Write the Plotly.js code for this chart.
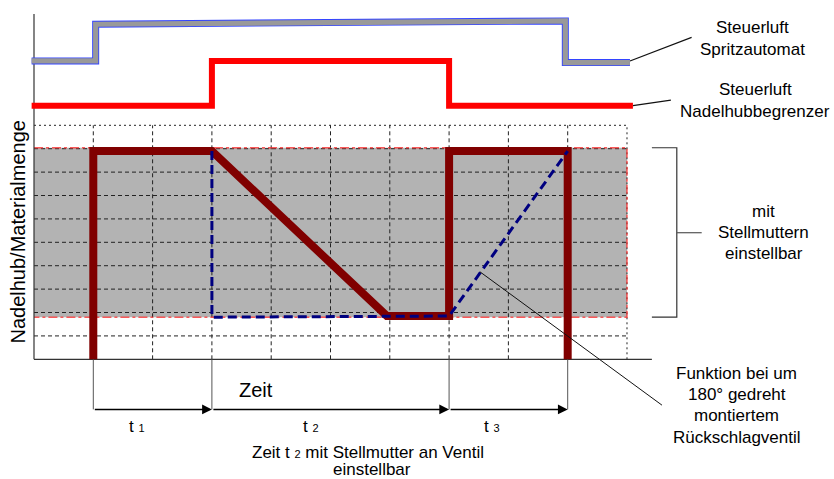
<!DOCTYPE html>
<html>
<head>
<meta charset="utf-8">
<script src="https://cdn.plot.ly/plotly-3.0.1.min.js"></script>
<style>html,body{margin:0;padding:0;background:#fff;}#chart{width:834px;height:479px;}</style>
</head>
<body>
<div id="chart"></div>
<script>
// ---- data ----
const gridXs = [1, 2, 3, 4, 5, 6, 7, 8, 9];
const gridYs = [1, 2, 3, 4, 5, 6, 7, 8, 9];
const gridMax = 10;
const axisXEnd = 10.42;
const axisYEnd = 14.76;

const bandX = [0, 10];
const bandY = [1.8, 9.04];

const spritzX = [-0.04, 1.04, 1.04, 8.96, 8.96, 10.05];
const spritzY = [12.75, 12.75, 14.32, 14.46, 12.68, 12.68];

const nadelX = [-0.04, 3, 3, 7, 7, 10.1];
const nadelY = [10.84, 10.84, 12.75, 12.75, 10.84, 10.84];

const hubX = [1, 1, 3, 5.95, 7, 7, 9, 9];
const hubY = [0, 8.9, 8.9, 1.85, 1.85, 8.9, 8.9, 0];

const rueckX = [3, 3, 7, 9];
const rueckY = [8.9, 1.8, 1.85, 8.9];

const phaseT = [1, 3, 7, 9];
const phaseY = -2.14;
const phaseLabels = ['t <span style="font-size:11px">1</span>', 't <span style="font-size:11px">2</span>', 't <span style="font-size:11px">3</span>'];
const phaseLabelX = [1.745, 4.67, 7.72];
const phaseLabelY = -2.89;

const bracketX = [10.42, 10.84, 11.26];
const bracketY = [9.04, 1.8, 5.41];

const leaderSpritzX = [10.05, 11.09], leaderSpritzY = [12.75, 13.76];
const leaderNadelX = [10.1, 10.74], leaderNadelY = [10.84, 11.08];
const leaderRueckX = [7.52, 10.59], leaderRueckY = [3.74, -1.96];

const labelTexts = ['Steuerluft', 'Spritzautomat', 'Steuerluft', 'Nadelhubbegrenzer',
  'mit', 'Stellmuttern', 'einstellbar',
  'Funktion bei um', '180° gedreht', 'montiertem', 'Rückschlagventil',
  'Zeit t <span style="font-size:11px">2</span> mit Stellmutter an Ventil', 'einstellbar'];
const labelX = [12.12, 12.12, 12.16, 12.16, 12.31, 12.31, 12.31, 11.855, 11.855, 11.855, 11.855, 5.63, 5.7];
const labelY = [14.16, 13.26, 11.51, 10.61, 6.32, 5.41, 4.54, -0.62, -1.51, -2.42, -3.32, -3.99, -4.72];

const zeitLabel = 'Zeit', zeitX = 3.74, zeitY = -1.31;
const yTitle = 'Nadelhub/Materialmenge', yTitleX = -0.27, yTitleY = 5.46;

// ---- build ----
const FONT = 'Liberation Sans, Arial, sans-serif';
function segs(pairs) {
  const x = [], y = [];
  pairs.forEach(p => { x.push(p[0], p[2], null); y.push(p[1], p[3], null); });
  return {x, y};
}
const traces = [];
traces.push({x: [bandX[0], bandX[1], bandX[1], bandX[0], bandX[0]], y: [bandY[0], bandY[0], bandY[1], bandY[1], bandY[0]],
  mode: 'lines', fill: 'toself', fillcolor: '#b3b3b3', line: {width: 0}, hoverinfo: 'skip'});
const dashed = segs(gridYs.map(v => [0, v, gridMax, v]).concat(gridXs.map(v => [v, 0, v, gridMax])));
traces.push({x: dashed.x, y: dashed.y, mode: 'lines', line: {color: '#222', width: 1, dash: '4px,3px'}, hoverinfo: 'skip'});
const dotted = segs([[0, gridMax, gridMax, gridMax], [gridMax, 0, gridMax, gridMax]]);
traces.push({x: dotted.x, y: dotted.y, mode: 'lines', line: {color: '#222', width: 1, dash: '2px,3px'}, hoverinfo: 'skip'});
traces.push({x: [bandX[0], bandX[1], bandX[1], bandX[0]], y: [bandY[1], bandY[1], bandY[0], bandY[0]],
  mode: 'lines', line: {color: 'rgba(255,40,40,0.75)', width: 1.5, dash: 'dashdot'}, hoverinfo: 'skip'});
const axes = segs([[0, 0, 0, axisYEnd], [0, 0, axisXEnd, 0]]);
traces.push({x: axes.x, y: axes.y, mode: 'lines', line: {color: '#333', width: 1.2}, hoverinfo: 'skip'});
const marks = segs(phaseT.map(v => [v, 0, v, phaseY]));
traces.push({x: marks.x, y: marks.y, mode: 'lines', line: {color: '#555', width: 1}, hoverinfo: 'skip'});
traces.push({x: [bracketX[0], bracketX[1], bracketX[1], bracketX[0]], y: [bracketY[0], bracketY[0], bracketY[1], bracketY[1]],
  mode: 'lines', line: {color: '#333', width: 1.2}, hoverinfo: 'skip'});
traces.push({x: [bracketX[1], bracketX[2]], y: [bracketY[2], bracketY[2]], mode: 'lines', line: {color: '#555', width: 1.2}, hoverinfo: 'skip'});
const leaders = segs([[leaderSpritzX[0], leaderSpritzY[0], leaderSpritzX[1], leaderSpritzY[1]],
  [leaderNadelX[0], leaderNadelY[0], leaderNadelX[1], leaderNadelY[1]]]);
traces.push({x: leaders.x, y: leaders.y, mode: 'lines', line: {color: '#111', width: 1.2}, hoverinfo: 'skip'});
traces.push({x: spritzX, y: spritzY, mode: 'lines', line: {color: '#3344ff', width: 7}, hoverinfo: 'skip'});
traces.push({x: spritzX, y: spritzY, mode: 'lines', line: {color: '#999999', width: 5.2}, hoverinfo: 'skip'});
traces.push({x: nadelX, y: nadelY, mode: 'lines', line: {color: '#ff0000', width: 6}, hoverinfo: 'skip'});
traces.push({x: hubX, y: hubY, mode: 'lines', line: {color: '#800000', width: 8}, hoverinfo: 'skip'});
traces.push({x: rueckX, y: rueckY, mode: 'lines', line: {color: '#000080', width: 3, dash: '9px,5px'}, hoverinfo: 'skip'});
traces.push({x: leaderRueckX, y: leaderRueckY, mode: 'lines', line: {color: '#111', width: 1}, hoverinfo: 'skip'});

const annotations = [];
labelTexts.forEach((t, i) => annotations.push({x: labelX[i], y: labelY[i], xref: 'x', yref: 'y', text: t, showarrow: false,
  xanchor: 'center', yanchor: 'middle', font: {family: FONT, size: 17, color: '#000'}}));
annotations.push({x: zeitX, y: zeitY, xref: 'x', yref: 'y', text: zeitLabel, showarrow: false, xanchor: 'center', yanchor: 'middle',
  font: {family: FONT, size: 20, color: '#000'}});
annotations.push({x: yTitleX, y: yTitleY, xref: 'x', yref: 'y', text: yTitle, showarrow: false, textangle: -90, xanchor: 'center', yanchor: 'middle',
  font: {family: FONT, size: 20, color: '#000'}});
phaseLabels.forEach((t, i) => annotations.push({x: phaseLabelX[i], y: phaseLabelY, xref: 'x', yref: 'y', text: t, showarrow: false,
  xanchor: 'center', yanchor: 'middle', font: {family: FONT, size: 17, color: '#000'}}));
for (let i = 0; i < phaseT.length - 1; i++) {
  annotations.push({x: phaseT[i + 1], y: phaseY, ax: phaseT[i], ay: phaseY, xref: 'x', yref: 'y', axref: 'x', ayref: 'y',
    text: '', showarrow: true, arrowhead: 2, arrowsize: 1.3, arrowwidth: 1.5, arrowcolor: '#000', standoff: 0, startstandoff: 0});
}

const layout = {
  width: 834, height: 479, margin: {l: 0, r: 0, t: 0, b: 0, pad: 0},
  paper_bgcolor: '#fff', plot_bgcolor: '#fff', showlegend: false,
  xaxis: {range: [-0.5734, 13.491], visible: false, fixedrange: true},
  yaxis: {range: [-5.115, 15.355], visible: false, fixedrange: true},
  annotations: annotations
};
Plotly.newPlot('chart', traces, layout, {displayModeBar: false, staticPlot: true});
</script>
</body>
</html>
